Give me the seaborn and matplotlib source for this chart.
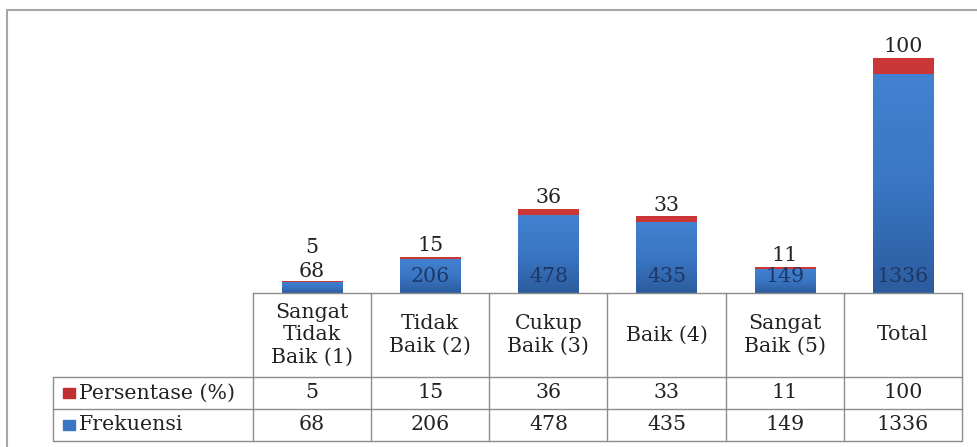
import numpy as np
import pandas as pd
import matplotlib
matplotlib.use("Agg")
import matplotlib.pyplot as plt
from matplotlib.lines import Line2D
from matplotlib.patches import Rectangle
from matplotlib.colors import LinearSegmentedColormap
import seaborn as sns

# ---- data ----
categories = ["Sangat\nTidak\nBaik (1)", "Tidak\nBaik (2)", "Cukup\nBaik (3)",
              "Baik (4)", "Sangat\nBaik (5)", "Total"]
frekuensi = [68, 206, 478, 435, 149, 1336]
persentase = [5, 15, 36, 33, 11, 100]
series_names = ["Persentase (%)", "Frekuensi"]

# ---- styling ----
W, H = 978, 447
BLUE = "#3A74C2"
RED = "#C0302E"
FONT = ["DejaVu Serif"]
TXT = "#222222"
FS = 14.8

sns.set_theme(style="white")
plt.rcParams["font.family"] = FONT

fig = plt.figure(figsize=(W / 100, H / 100), dpi=100)

def fx(x):
    return x / W

def fy(y):
    return 1 - y / H

# table geometry (pixels)
tab_left, tab_right = 253, 962
leg_left = 53
head_top, row1_top, row2_top, tab_bottom = 293, 377, 409, 441
plot_top = 31

ax = fig.add_axes([fx(tab_left), fy(head_top), fx(tab_right - tab_left),
                   (head_top - plot_top) / H])

df = pd.DataFrame({"cat": categories, "frek": frekuensi, "pers": persentase})
df["total"] = df["frek"] + df["pers"]

sns.barplot(data=df, x="cat", y="total", color=RED, saturation=1, width=0.51,
            ax=ax, order=categories, linewidth=0)
sns.barplot(data=df, x="cat", y="frek", color=BLUE, saturation=1, width=0.51,
            ax=ax, order=categories, linewidth=0)

n = len(categories)
ax.set_xlim(-0.5, n - 0.5)
ax.set_ylim(0, 1600)

# gradient fill on the bars (Excel-like shading)
blue_cmap = LinearSegmentedColormap.from_list("b", ["#2C5C9E", "#3A76C4", "#4282D0"])
red_cmap = LinearSegmentedColormap.from_list("r", ["#A82624", "#C42E2C", "#CC3838"])
grad = np.linspace(0, 1, 256).reshape(-1, 1)
for k, p in enumerate(ax.patches):
    cmap = red_cmap if k < n else blue_cmap
    x0, y0 = p.get_x(), p.get_y()
    w, h = p.get_width(), p.get_height()
    im = ax.imshow(grad, extent=(x0, x0 + w, y0, y0 + h), origin="lower",
                   cmap=cmap, aspect="auto", zorder=p.get_zorder() + 0.1 + k * 0.001)
    im.set_clip_path(p)
ax.set_xlim(-0.5, n - 0.5)
ax.set_ylim(0, 1600)

ax.set_axis_off()

# data labels
px_per_unit = (ax.transData.transform((0, 1))[1] - ax.transData.transform((0, 0))[1])
for i, (f, pc) in enumerate(zip(frekuensi, persentase)):
    bar_px = f * px_per_unit
    tot = f + pc
    if bar_px < 22:
        ax.annotate(str(f), (i, tot), xytext=(0, 0), textcoords="offset points",
                    ha="center", va="bottom", fontsize=FS, color=TXT)
        ax.annotate(str(pc), (i, tot), xytext=(0, 17), textcoords="offset points",
                    ha="center", va="bottom", fontsize=FS, color=TXT)
    else:
        ax.annotate(str(f), (i, 0), xytext=(0, 5), textcoords="offset points",
                    ha="center", va="bottom", fontsize=FS, color="#1D3766", zorder=10)
        ax.annotate(str(pc), (i, tot), xytext=(0, 1), textcoords="offset points",
                    ha="center", va="bottom", fontsize=FS, color=TXT)

# ---- data table ----
LC = "#8C8C8C"
def hline(y, x0, x1, c=LC, lw=1.0):
    fig.add_artist(Line2D([fx(x0), fx(x1)], [fy(y), fy(y)], color=c, lw=lw,
                          transform=fig.transFigure))

def vline(x, y0, y1, c=LC, lw=1.0):
    fig.add_artist(Line2D([fx(x), fx(x)], [fy(y0), fy(y1)], color=c, lw=lw,
                          transform=fig.transFigure))

colw = (tab_right - tab_left) / n
hline(head_top, tab_left, tab_right)
for y in (row1_top, row2_top, tab_bottom):
    hline(y, leg_left, tab_right)
vline(leg_left, row1_top, tab_bottom)
for j in range(n + 1):
    vline(tab_left + j * colw, head_top, tab_bottom)

for j, cat in enumerate(categories):
    cx = tab_left + (j + 0.5) * colw
    fig.text(fx(cx), fy((head_top + row1_top) / 2), cat, ha="center", va="center",
             fontsize=FS, color=TXT, linespacing=1.22)
    fig.text(fx(cx), fy((row1_top + row2_top) / 2), str(persentase[j]), ha="center",
             va="center", fontsize=FS, color=TXT)
    fig.text(fx(cx), fy((row2_top + tab_bottom) / 2), str(frekuensi[j]), ha="center",
             va="center", fontsize=FS, color=TXT)

# legend keys in the table
for (name, col, y0, y1) in [(series_names[0], RED, row1_top, row2_top),
                            (series_names[1], BLUE, row2_top, tab_bottom)]:
    cy = (y0 + y1) / 2
    fig.add_artist(Rectangle((fx(63), fy(cy + 5)), fx(12), 10 / H, color=col,
                             transform=fig.transFigure))
    fig.text(fx(79), fy(cy), name, ha="left", va="center", fontsize=FS, color=TXT)

# outer chart frame (top and left visible)
hline(10, 7.5, W, c="#A6A6A6", lw=1.5)
vline(7.5, 10, H, c="#A6A6A6", lw=1.5)

fig.savefig("out.png", dpi=100, facecolor="white")
